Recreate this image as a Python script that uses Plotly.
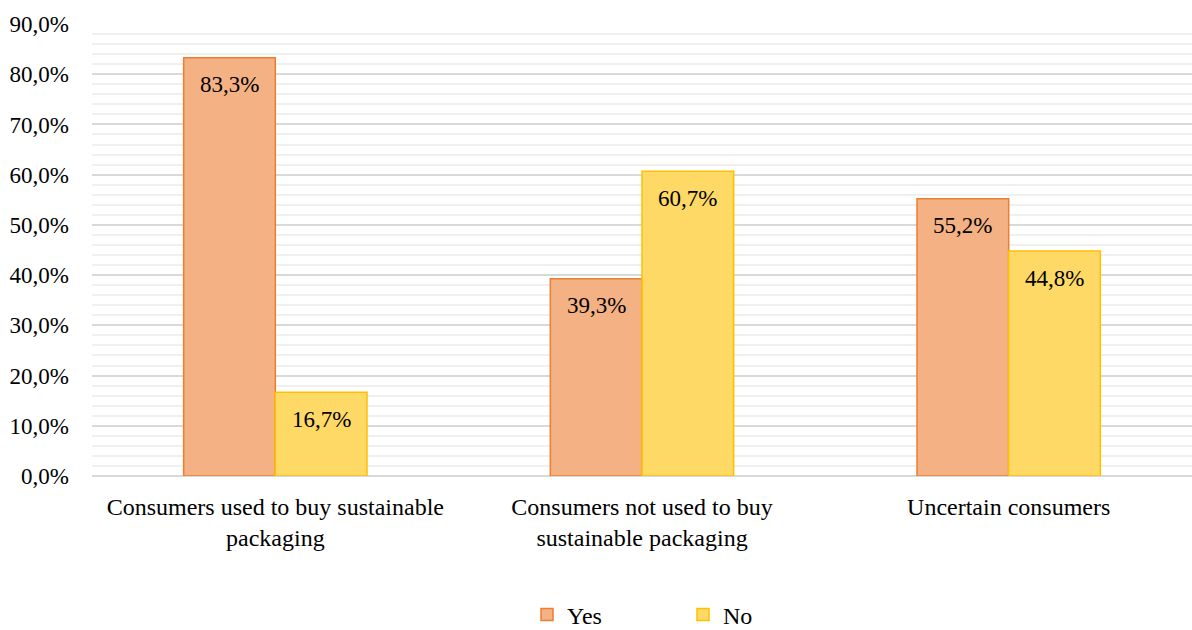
import plotly.graph_objects as go

categories = ["Consumers used to buy sustainable<br>packaging",
              "Consumers not used to buy<br>sustainable packaging",
              "Uncertain consumers"]
yes_values = [83.3, 39.3, 55.2]
no_values = [16.7, 60.7, 44.8]

FONT = "Liberation Serif"

fig = go.Figure()
fig.add_bar(name="Yes", x=categories, y=yes_values,
            marker=dict(color="#F4B183", line=dict(color="#ED7D31", width=1.5)))
fig.add_bar(name="No", x=categories, y=no_values,
            marker=dict(color="#FFD966", line=dict(color="#FFC000", width=1.5)))

# data labels
annotations = []
for i, c in enumerate(categories):
    for j, (vals, off) in enumerate([(yes_values, -0.125), (no_values, 0.125)]):
        v = vals[i]
        annotations.append(dict(x=i + off, y=v, xref="x", yref="y",
                                text=f"{v:.1f}".replace(".", ",") + "%",
                                showarrow=False, yanchor="middle", yshift=-27,
                                font=dict(family=FONT, size=23, color="#000")))

fig.update_layout(
    width=1192, height=630,
    margin=dict(l=92, r=0, t=24, b=154, autoexpand=False),
    paper_bgcolor="white", plot_bgcolor="white",
    barmode="group", bargap=0.5, bargroupgap=0,
    separators=",.",
    font=dict(family=FONT, size=23, color="#000"),
    showlegend=True,
    legend=dict(orientation="h", xref="container", yref="container",
                x=527 / 1192, xanchor="left", y=15 / 630, yanchor="middle",
                font=dict(family=FONT, size=24), entrywidth=111, itemwidth=30),
    annotations=annotations,
)
fig.update_xaxes(showgrid=False, showline=False, ticks="", tickfont=dict(size=24),
                 ticklabelstandoff=14, automargin=False)
fig.update_yaxes(range=[0, 90], dtick=10, tickformat=".1f", ticksuffix="%",
                 showgrid=True, gridcolor="#d9d9d9", gridwidth=1.5,
                 zeroline=True, zerolinecolor="#d9d9d9", zerolinewidth=1.5,
                 ticks="", ticklabelstandoff=22, automargin=False,
                 minor=dict(dtick=2, showgrid=True, gridcolor="#f0f0f0", gridwidth=1.5),
                 tickfont=dict(size=23))

fig.write_html("out.html")
